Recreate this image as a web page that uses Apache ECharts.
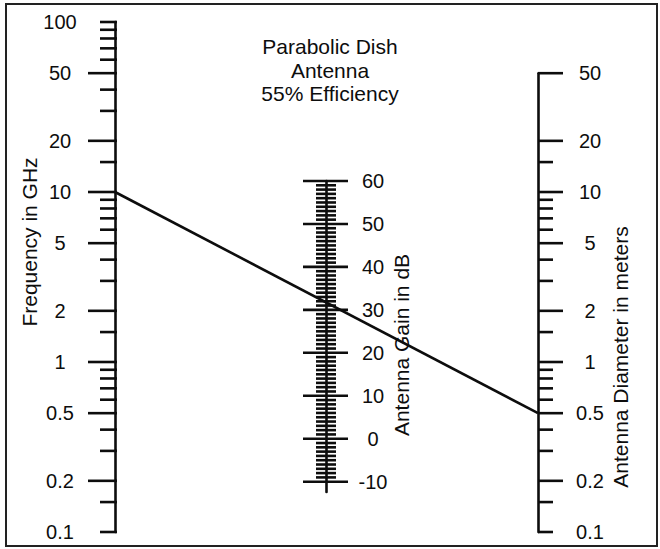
<!DOCTYPE html>
<html>
<head>
<meta charset="utf-8">
<script src="https://cdn.jsdelivr.net/npm/echarts@6/dist/echarts.min.js"></script>
<style>
  html, body { margin: 0; padding: 0; background: #fff; }
  #chart { width: 660px; height: 549px; }
</style>
</head>
<body>
<div id="chart"></div>
<script>
// ---------- data ----------
// Frequency scale (GHz), left
const freqLabels = [100, 50, 20, 10, 5, 2, 1, 0.5, 0.2, 0.1];
const freqLongTicks = [50, 20, 10, 5, 2, 1, 0.5, 0.2];
const freqShortTicks = [100, 90, 80, 70, 60, 40, 30, 15, 9, 8, 7, 6, 4, 3, 1.5,
                        0.9, 0.8, 0.7, 0.6, 0.4, 0.3, 0.15, 0.1];
// Antenna diameter scale (m), right
const diamLabels = [50, 20, 10, 5, 2, 1, 0.5, 0.2, 0.1];
const diamLongTicks = [50, 20, 10, 5, 2, 1, 0.5, 0.2];
const diamShortTicks = [15, 9, 8, 7, 6, 4, 3, 1.5, 0.9, 0.8, 0.7, 0.6, 0.4, 0.3, 0.15, 0.1];
// Antenna gain scale (dB), middle
const gainLabels = [60, 50, 40, 30, 20, 10, 0, -10];
const gainLongTicks = [60, 50, 40, 30, 20, 10, 0, -10];
const gainShortTicks = [59, 58, 57, 56, 55, 54, 53, 52, 51,
                        49, 48, 47, 46, 45, 44, 43, 42, 41,
                        39, 38, 37, 36, 35, 34, 33, 32, 31,
                        29, 28, 27, 26, 25, 24, 23, 22, 21,
                        19, 18, 17, 16, 15, 14, 13, 12, 11,
                        9, 8, 7, 6, 5, 4, 3, 2, 1,
                        -1, -2, -3, -4, -5, -6, -7, -8, -9];
// Example key line: 10 GHz with a 0.5 m dish
const keyFreq = 10;
const keyDiam = 0.5;

const titleLines = ['Parabolic Dish', 'Antenna', '55% Efficiency'];
const freqTitle = 'Frequency in GHz';
const gainTitle = 'Antenna Gain in dB';
const diamTitle = 'Antenna Diameter in meters';

// ---------- styling ----------
const INK = '#0d0d0d';
const FONT = '"Liberation Sans", Arial, Helvetica, sans-serif';
const FS_TICK = 20;
const FS_TITLE = 21;

function tickSeries(axisIdx, values, offA, offB) {
  return {
    type: 'custom',
    xAxisIndex: axisIdx, yAxisIndex: axisIdx,
    clip: false, silent: true,
    data: values.map(v => [0, v]),
    renderItem: function (params, api) {
      const p = api.coord([0, api.value(1)]);
      return {
        type: 'line',
        shape: { x1: p[0] + offA, y1: p[1], x2: p[0] + offB, y2: p[1] },
        style: { stroke: INK, lineWidth: 2.6 }
      };
    }
  };
}
function labelSeries(axisIdx, values, dx) {
  return {
    type: 'custom',
    xAxisIndex: axisIdx, yAxisIndex: axisIdx,
    clip: false, silent: true,
    data: values.map(v => [0, v]),
    renderItem: function (params, api) {
      const v = api.value(1);
      const p = api.coord([0, v]);
      return {
        type: 'text',
        x: p[0] + dx, y: p[1],
        style: {
          text: String(values[params.dataIndex]),
          align: 'center', verticalAlign: 'middle',
          fontFamily: FONT, fontSize: FS_TICK, fill: INK
        }
      };
    }
  };
}
function hiddenX(gridIndex) {
  return { type: 'value', gridIndex: gridIndex, min: 0, max: 1, show: false };
}
function yAxisBase(extra) {
  return Object.assign({
    position: 'left',
    axisLine: { show: true, onZero: false, lineStyle: { color: INK, width: 2.6 } },
    axisTick: { show: false },
    axisLabel: { show: false },
    splitLine: { show: false }
  }, extra);
}
function vText(text, x, y) {
  return {
    type: 'text', x: x, y: y, rotation: Math.PI / 2,
    style: {
      text: text, align: 'center', verticalAlign: 'middle',
      fontFamily: FONT, fontSize: FS_TITLE, fill: INK
    }
  };
}

const chart = echarts.init(document.getElementById('chart'), null, { renderer: 'svg' });
chart.setOption({
  animation: false,
  backgroundColor: '#fff',
  title: {
    text: titleLines.join('\n'),
    left: 'center', top: 35, padding: 0,
    textStyle: { fontFamily: FONT, fontSize: FS_TITLE, fontWeight: 'normal', color: INK, lineHeight: 23.5 }
  },
  grid: [
    { left: 115, top: 22, width: 423, height: 510 },
    { left: 538, top: 73.2, width: 60, height: 458.8 },
    { left: 326, top: 181, width: 60, height: 311 }
  ],
  xAxis: [hiddenX(0), hiddenX(1), hiddenX(2)],
  yAxis: [
    yAxisBase({ type: 'log', logBase: 10, min: 0.1, max: 100, gridIndex: 0 }),
    yAxisBase({ type: 'log', logBase: 10, min: 0.1, max: 50, gridIndex: 1 }),
    yAxisBase({ type: 'value', min: -12.4, max: 60, gridIndex: 2 })
  ],
  graphic: [
    { type: 'rect', shape: { x: 6, y: 4, width: 651, height: 542 },
      style: { fill: 'none', stroke: '#222', lineWidth: 2 } },
    vText(freqTitle, 29, 242),
    vText(gainTitle, 401, 345),
    vText(diamTitle, 620, 357)
  ],
  series: [
    tickSeries(0, freqLongTicks, -27, 2),
    tickSeries(0, freqShortTicks, -15, 2),
    labelSeries(0, freqLabels, -55),
    tickSeries(1, diamLongTicks, 0, 25),
    tickSeries(1, diamShortTicks, 0, 15),
    labelSeries(1, diamLabels, 52),
    tickSeries(2, gainLongTicks, -23, 22),
    tickSeries(2, gainShortTicks, -10, 10),
    labelSeries(2, gainLabels, 47),
    {
      type: 'line', xAxisIndex: 0, yAxisIndex: 0,
      data: [[0, keyFreq], [1, keyDiam]],
      symbol: 'none', silent: true,
      lineStyle: { color: INK, width: 2.6 }
    }
  ]
});
</script>
</body>
</html>
